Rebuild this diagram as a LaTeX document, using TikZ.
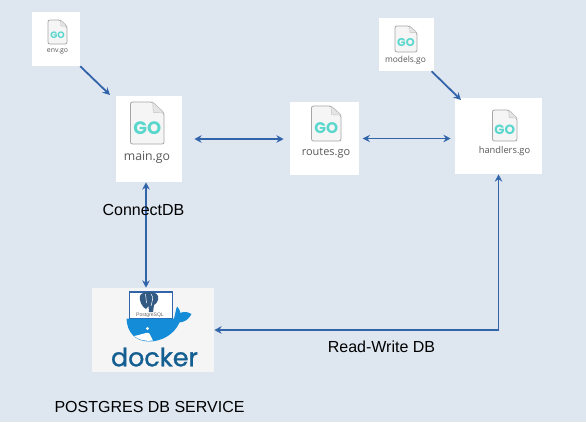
\documentclass[tikz,border=0pt]{standalone}
\usepackage{fontspec}
\setmainfont{Liberation Sans}
\newfontfamily\namefont{Open Sans}
\newfontfamily\logofont{Poppins}
\newfontfamily\dockerfont[RawFeature={embolden=1.2}]{Poppins}
\usetikzlibrary{arrows.meta}
\definecolor{bgc}{RGB}{222,230,240}
\definecolor{linkc}{RGB}{50,100,170}
\definecolor{goc}{RGB}{90,215,205}
\definecolor{pagec}{RGB}{245,245,245}
\definecolor{whalec}{RGB}{20,140,215}
\definecolor{logoc}{RGB}{20,95,145}
\definecolor{elephc}{RGB}{50,90,130}
\tikzset{
  filebox/.style={rectangle,fill=white,inner sep=0pt},
  fname/.style={inner sep=0pt,text=black!65,font=\namefont},
  lbl/.style={inner sep=0pt,font=\fontsize{12}{14}\selectfont},
  link/.style={-{Stealth[length=5.5pt,width=5.5pt]},line width=1.35pt,linkc},
  twoway/.style={{Stealth[length=5.5pt,width=5.5pt]}-{Stealth[length=5.5pt,width=5.5pt]},line width=1.35pt,linkc},
}
% x y w h size of GO
\newcommand{\goicon}[5]{
  \begin{scope}[shift={(#1,#2)},xscale=#3,yscale=#4]
    \draw[black!35,fill=pagec,line width=0.6pt,rounded corners=1.5pt]
      (0,0) -- (0.66,0) -- (1,0.26) -- (1,1) -- (0,1) -- cycle;
    \draw[black!25,fill=black!10,line width=0.3pt] (0.66,0) -- (0.68,0.25) -- (1,0.26) -- cycle;
    \node[inner sep=0pt,text=goc,font=\logofont\fontsize{#5}{#5}\selectfont\bfseries] at (0.5,0.63) {GO};
  \end{scope}
}
\begin{document}
\begin{tikzpicture}[x=0.75pt,y=-0.75pt]
  \useasboundingbox[fill=bgc] (0,0) rectangle (586,422);
  % boxes
  \node[filebox,minimum width=36pt,minimum height=40.5pt] (env) at (56,39) {};
  \node[filebox,minimum width=49.5pt,minimum height=64.5pt] (main) at (149,139) {};
  \node[filebox,minimum width=51.75pt,minimum height=54.75pt] (routes) at (324.5,138.5) {};
  \node[filebox,minimum width=65.25pt,minimum height=57pt] (handlers) at (498.5,136) {};
  \node[filebox,minimum width=41.25pt,minimum height=39.75pt] (models) at (406.5,44.5) {};
  \node[filebox,fill=white!96!black,minimum width=91.5pt,minimum height=63pt] (docker) at (153,330) {};
  % icons
  \goicon{48}{20}{19}{24}{7}
  \goicon{130.5}{102}{33.5}{42}{13.5}
  \goicon{311.5}{106}{29.5}{35}{11.5}
  \goicon{492.5}{110}{24.5}{31}{10}
  \goicon{395}{26}{22}{26}{8.5}
  % file names
  \node[fname,font=\namefont\fontsize{5.2}{6}\selectfont] (envname) at (57.5,51.5) {env.go};
  \node[fname,font=\namefont\fontsize{9.2}{11}\selectfont] (mainname) at (147,157.5) {main.go};
  \node[fname,font=\namefont\fontsize{8.2}{10}\selectfont] (routesname) at (326,153) {routes.go};
  \node[fname,font=\namefont\fontsize{7}{9}\selectfont] (handlersname) at (504.5,151) {handlers.go};
  \node[fname,font=\namefont\fontsize{6.3}{8}\selectfont] (modelsname) at (405.5,60) {models.go};
  % postgres on the whale
  \draw[linkc,line width=0.8pt,fill=white] (129.5,292) rectangle (172.5,318.5);
  \fill[elephc] (140,296) .. controls (141,291) and (156,290) .. (158,296)
    .. controls (159,301) and (156,304) .. (154,305) -- (153,312) -- (149,312)
    -- (148.5,306) -- (146,309) .. controls (142,307) and (139,301) .. (140,296) -- cycle;
  \draw[white,line width=0.4pt] (145.5,294) -- (146.5,303) (151,294) .. controls (154,297) and (152,302) .. (151,306);
  \node[inner sep=0pt,text=black!60,font=\fontsize{3.8}{4}\selectfont] (pgname) at (150,315.5) {PostgreSQL};
  % whale
  \fill[whalec] (126.5,318.5) -- (174,318.5) .. controls (175.5,314) and (175.5,310) .. (177,306.5)
    .. controls (178.5,308) and (180,310) .. (180.5,313) .. controls (184,311) and (188,312) .. (191.5,314)
    .. controls (189,319) and (185,322) .. (179.5,322.5) .. controls (174,335) and (161,341.5) .. (149,341.5)
    .. controls (135,341.5) and (127,332) .. (126.5,318.5) -- cycle;
  \fill[white] (134,336) .. controls (139,335.5) and (146,332) .. (149,333) .. controls (150,335) and (152,338) .. (153,340.5)
    .. controls (145,341.5) and (139,340) .. (134,336) -- cycle;
  \fill[white] (147.5,328.5) circle (1.6);
  \node[inner sep=0pt,text=logoc,font=\dockerfont\fontsize{19}{21}\selectfont] (dockername) at (154.5,357) {docker};
  % links
  \coordinate (mainin) at (110,95);
  \coordinate (handin) at (461,100);
  \draw[link] (env.south east) -- (mainin);
  \draw[link] ([xshift=-2pt]models.south east) -- (handin);
  \draw[twoway] ([xshift=9pt]main.east) -- ([xshift=-4.5pt]routes.west |- main.east);
  \draw[twoway] ([xshift=2.5pt]routes.east) -- ([xshift=-3pt]handlers.west |- routes.east);
  \draw[twoway] ([xshift=-2.25pt]main.south) -- ([xshift=-5.25pt]docker.north);
  \draw[twoway] (docker.east) -- (handlers.south |- docker.east) -- (handlers.south);
  % labels
  \node[lbl] (connectlbl) at (143.5,210) {ConnectDB};
  \node[lbl] (rwlbl) at (381.5,347) {Read-Write DB};
  \node[lbl] (pglbl) at (149.5,407) {POSTGRES DB SERVICE};
\end{tikzpicture}
\end{document}
